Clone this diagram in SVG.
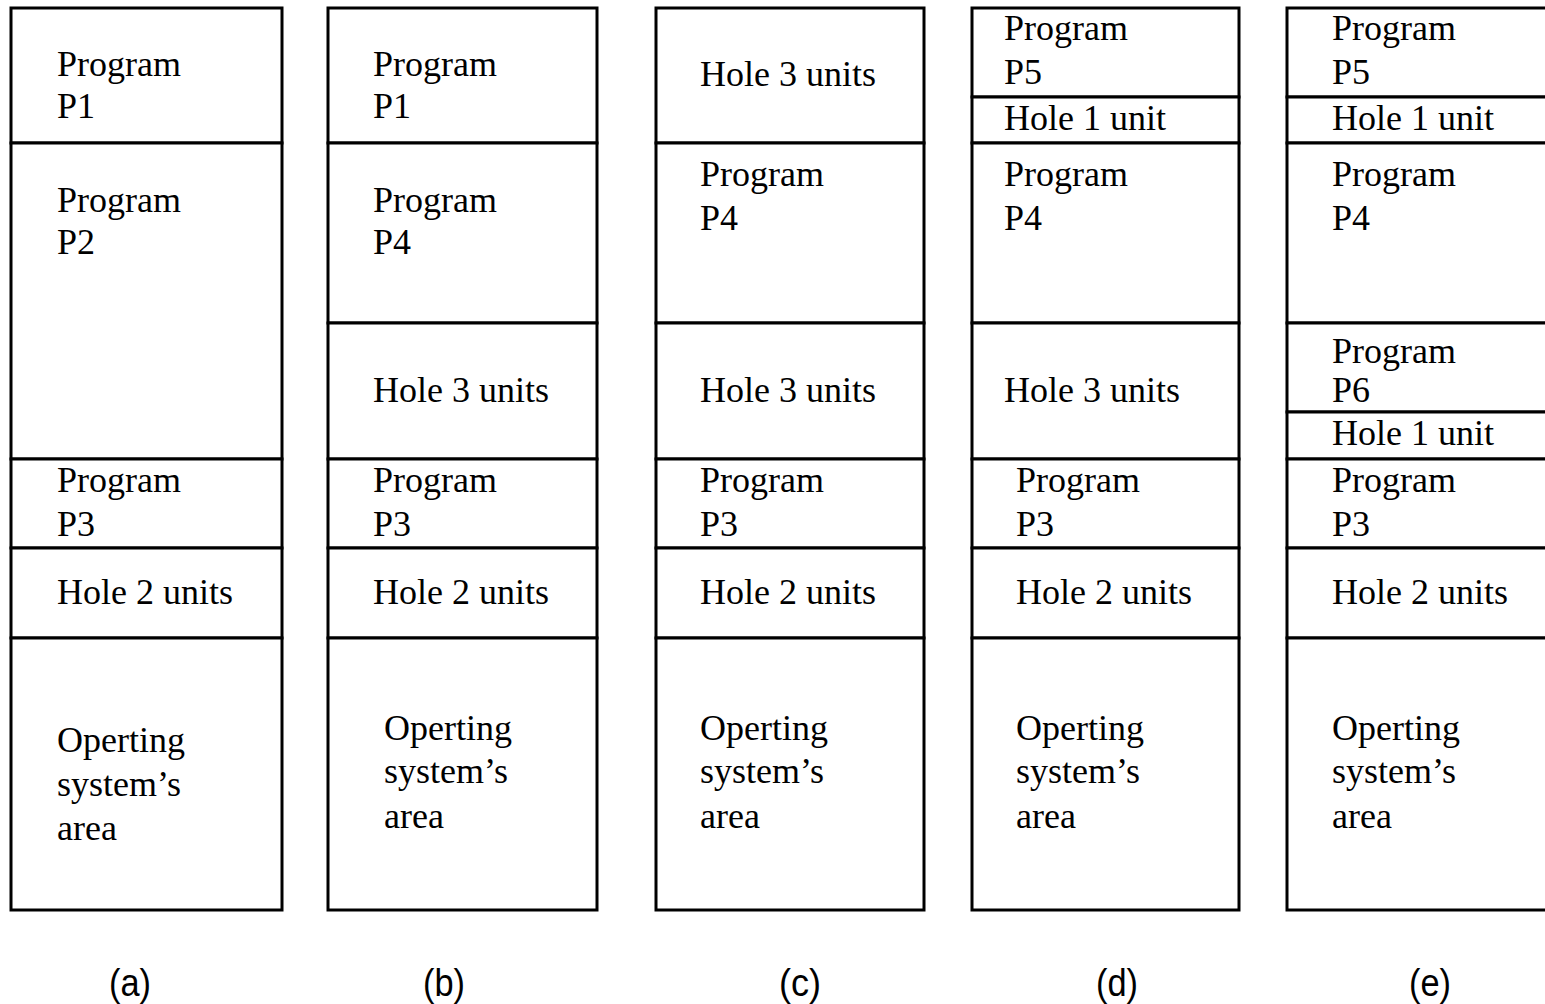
<svg xmlns="http://www.w3.org/2000/svg" width="1545" height="1004" viewBox="0 0 1545 1004">
<style>
.blk{fill:#fff;stroke:#000;stroke-width:3}
.t{font-family:"Liberation Serif","Times New Roman",serif;font-size:36px;fill:#000}
.lab{font-family:"Liberation Sans",Arial,sans-serif;font-size:38px;fill:#000}
</style>
<rect width="1545" height="1004" fill="#fff"/>
<!-- (a) -->
<g id="col-a">
<g id="a-p1"><rect class="blk" x="11" y="8" width="271" height="135"/><text class="t" x="57" y="76">Program</text><text class="t" x="57" y="118">P1</text></g>
<g id="a-p2"><rect class="blk" x="11" y="143" width="271" height="316"/><text class="t" x="57" y="212">Program</text><text class="t" x="57" y="254">P2</text></g>
<g id="a-p3"><rect class="blk" x="11" y="459" width="271" height="89"/><text class="t" x="57" y="492">Program</text><text class="t" x="57" y="536">P3</text></g>
<g id="a-h2"><rect class="blk" x="11" y="548" width="271" height="90"/><text class="t" x="57" y="604">Hole 2 units</text></g>
<g id="a-os"><rect class="blk" x="11" y="638" width="271" height="272"/><text class="t" x="57" y="752">Operting</text><text class="t" x="57" y="796">system’s</text><text class="t" x="57" y="840">area</text></g>
</g>
<!-- (b) -->
<g id="col-b">
<g id="b-p1"><rect class="blk" x="328" y="8" width="269" height="135"/><text class="t" x="373" y="76">Program</text><text class="t" x="373" y="118">P1</text></g>
<g id="b-p4"><rect class="blk" x="328" y="143" width="269" height="180"/><text class="t" x="373" y="212">Program</text><text class="t" x="373" y="254">P4</text></g>
<g id="b-h3"><rect class="blk" x="328" y="323" width="269" height="136"/><text class="t" x="373" y="402">Hole 3 units</text></g>
<g id="b-p3"><rect class="blk" x="328" y="459" width="269" height="89"/><text class="t" x="373" y="492">Program</text><text class="t" x="373" y="536">P3</text></g>
<g id="b-h2"><rect class="blk" x="328" y="548" width="269" height="90"/><text class="t" x="373" y="604">Hole 2 units</text></g>
<g id="b-os"><rect class="blk" x="328" y="638" width="269" height="272"/><text class="t" x="384" y="740">Operting</text><text class="t" x="384" y="783">system’s</text><text class="t" x="384" y="828">area</text></g>
</g>
<!-- (c) -->
<g id="col-c">
<g id="c-h3a"><rect class="blk" x="656" y="8" width="268" height="135"/><text class="t" x="700" y="86">Hole 3 units</text></g>
<g id="c-p4"><rect class="blk" x="656" y="143" width="268" height="180"/><text class="t" x="700" y="186">Program</text><text class="t" x="700" y="230">P4</text></g>
<g id="c-h3b"><rect class="blk" x="656" y="323" width="268" height="136"/><text class="t" x="700" y="402">Hole 3 units</text></g>
<g id="c-p3"><rect class="blk" x="656" y="459" width="268" height="89"/><text class="t" x="700" y="492">Program</text><text class="t" x="700" y="536">P3</text></g>
<g id="c-h2"><rect class="blk" x="656" y="548" width="268" height="90"/><text class="t" x="700" y="604">Hole 2 units</text></g>
<g id="c-os"><rect class="blk" x="656" y="638" width="268" height="272"/><text class="t" x="700" y="740">Operting</text><text class="t" x="700" y="783">system’s</text><text class="t" x="700" y="828">area</text></g>
</g>
<!-- (d) -->
<g id="col-d">
<g id="d-p5"><rect class="blk" x="972" y="8" width="267" height="89"/><text class="t" x="1004" y="40">Program</text><text class="t" x="1004" y="84">P5</text></g>
<g id="d-h1"><rect class="blk" x="972" y="97" width="267" height="46"/><text class="t" x="1004" y="130">Hole 1 unit</text></g>
<g id="d-p4"><rect class="blk" x="972" y="143" width="267" height="180"/><text class="t" x="1004" y="186">Program</text><text class="t" x="1004" y="230">P4</text></g>
<g id="d-h3"><rect class="blk" x="972" y="323" width="267" height="136"/><text class="t" x="1004" y="402">Hole 3 units</text></g>
<g id="d-p3"><rect class="blk" x="972" y="459" width="267" height="89"/><text class="t" x="1016" y="492">Program</text><text class="t" x="1016" y="536">P3</text></g>
<g id="d-h2"><rect class="blk" x="972" y="548" width="267" height="90"/><text class="t" x="1016" y="604">Hole 2 units</text></g>
<g id="d-os"><rect class="blk" x="972" y="638" width="267" height="272"/><text class="t" x="1016" y="740">Operting</text><text class="t" x="1016" y="783">system’s</text><text class="t" x="1016" y="828">area</text></g>
</g>
<!-- (e) -->
<g id="col-e">
<g id="e-p5"><rect class="blk" x="1287" y="8" width="275" height="89"/><text class="t" x="1332" y="40">Program</text><text class="t" x="1332" y="84">P5</text></g>
<g id="e-h1a"><rect class="blk" x="1287" y="97" width="275" height="46"/><text class="t" x="1332" y="130">Hole 1 unit</text></g>
<g id="e-p4"><rect class="blk" x="1287" y="143" width="275" height="180"/><text class="t" x="1332" y="186">Program</text><text class="t" x="1332" y="230">P4</text></g>
<g id="e-p6"><rect class="blk" x="1287" y="323" width="275" height="89"/><text class="t" x="1332" y="363">Program</text><text class="t" x="1332" y="402">P6</text></g>
<g id="e-h1b"><rect class="blk" x="1287" y="412" width="275" height="47"/><text class="t" x="1332" y="445">Hole 1 unit</text></g>
<g id="e-p3"><rect class="blk" x="1287" y="459" width="275" height="89"/><text class="t" x="1332" y="492">Program</text><text class="t" x="1332" y="536">P3</text></g>
<g id="e-h2"><rect class="blk" x="1287" y="548" width="275" height="90"/><text class="t" x="1332" y="604">Hole 2 units</text></g>
<g id="e-os"><rect class="blk" x="1287" y="638" width="275" height="272"/><text class="t" x="1332" y="740">Operting</text><text class="t" x="1332" y="783">system’s</text><text class="t" x="1332" y="828">area</text></g>
</g>
<g id="labels">
<text class="lab" x="130" y="996" text-anchor="middle" textLength="42" lengthAdjust="spacingAndGlyphs">(a)</text>
<text class="lab" x="444" y="996" text-anchor="middle" textLength="42" lengthAdjust="spacingAndGlyphs">(b)</text>
<text class="lab" x="800" y="996" text-anchor="middle" textLength="42" lengthAdjust="spacingAndGlyphs">(c)</text>
<text class="lab" x="1117" y="996" text-anchor="middle" textLength="42" lengthAdjust="spacingAndGlyphs">(d)</text>
<text class="lab" x="1430" y="996" text-anchor="middle" textLength="42" lengthAdjust="spacingAndGlyphs">(e)</text>
</g>
</svg>
